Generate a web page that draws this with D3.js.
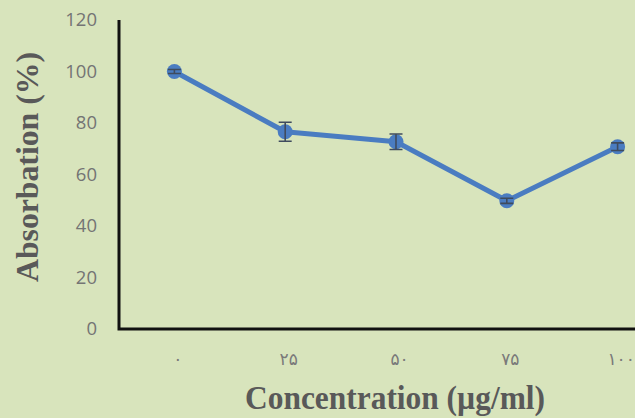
<!DOCTYPE html>
<html>
<head>
<meta charset="utf-8">
<script src="https://cdn.jsdelivr.net/npm/d3@7"></script>
<style>
html,body{margin:0;padding:0;background:#d8e4bc;}
svg{display:block;}
</style>
</head>
<body>
<svg id="chart" width="635" height="418"></svg>
<script>
const categories = ["۰", "۲۵", "۵۰", "۷۵", "۱۰۰"];
const values = [100, 76.6, 72.7, 49.8, 70.8];
const errors = [0.8, 3.7, 3.0, 1.0, 1.5];
const yTicks = [0, 20, 40, 60, 80, 100, 120];

const W = 635, H = 418;
const svg = d3.select("#chart");
svg.append("rect").attr("width", W).attr("height", H).attr("fill", "#d8e4bc");

const x = d3.scalePoint().domain(categories).range([119, 119 + 5 * 110.8]).padding(0.5);
const y = d3.scaleLinear().domain([0, 120]).range([329, 20]);

// y tick labels
const yAxis = svg.append("g").attr("transform", "translate(119,0)")
  .call(d3.axisLeft(y).tickValues(yTicks).tickSize(0).tickPadding(22));
yAxis.select(".domain").remove();
yAxis.selectAll("text").attr("font-family", "'Open Sans', sans-serif").attr("font-size", 18.5)
  .attr("fill", "#747474");

// x tick labels
const xAxis = svg.append("g").attr("transform", "translate(0,329)")
  .call(d3.axisBottom(x).tickSize(0).tickPadding(24));
xAxis.select(".domain").remove();
xAxis.selectAll("text").attr("font-family", "'DejaVu Sans', sans-serif").attr("font-size", 17)
  .attr("letter-spacing", 3).attr("dx", 3)
  .attr("fill", "#7a7a7a");

// axis lines
svg.append("path").attr("d", `M119,20V329H${W}`).attr("fill", "none")
  .attr("stroke", "#111").attr("stroke-width", 3);

// line
const line = d3.line().x((d, i) => x(categories[i])).y(d => y(d));
svg.append("path").datum(values).attr("d", line).attr("fill", "none")
  .attr("stroke", "#4a7cc1").attr("stroke-width", 5).attr("stroke-linejoin", "round");

// markers
svg.selectAll("circle.pt").data(values).enter().append("circle")
  .attr("class", "pt")
  .attr("cx", (d, i) => x(categories[i])).attr("cy", d => y(d)).attr("r", 7.5)
  .attr("fill", "#4a7cc1");

// error bars
const eb = svg.selectAll("g.eb").data(values).enter().append("g").attr("class", "eb");
eb.append("path").attr("d", (d, i) => {
  const cx = x(categories[i]), t = y(d + errors[i]), b = y(d - errors[i]);
  return `M${cx},${t}V${b}M${cx - 6.5},${t}H${cx + 6.5}M${cx - 6.5},${b}H${cx + 6.5}`;
}).attr("stroke", "#3f4b5e").attr("stroke-width", 1.6).attr("fill", "none");

// titles
svg.append("text").attr("x", 395).attr("y", 409).attr("text-anchor", "middle")
  .attr("font-family", "'Liberation Serif', serif").attr("font-weight", "bold")
  .attr("font-size", 33).attr("fill", "#595959")
  .attr("textLength", 300).attr("lengthAdjust", "spacingAndGlyphs")
  .text("Concentration  (µg/ml)");
svg.append("text").attr("transform", "translate(38,167) rotate(-90)").attr("text-anchor", "middle")
  .attr("font-family", "'Liberation Serif', serif").attr("font-weight", "bold")
  .attr("font-size", 31).attr("fill", "#595959")
  .attr("textLength", 230).attr("lengthAdjust", "spacingAndGlyphs")
  .text("Absorbation (%)");
</script>
</body>
</html>
